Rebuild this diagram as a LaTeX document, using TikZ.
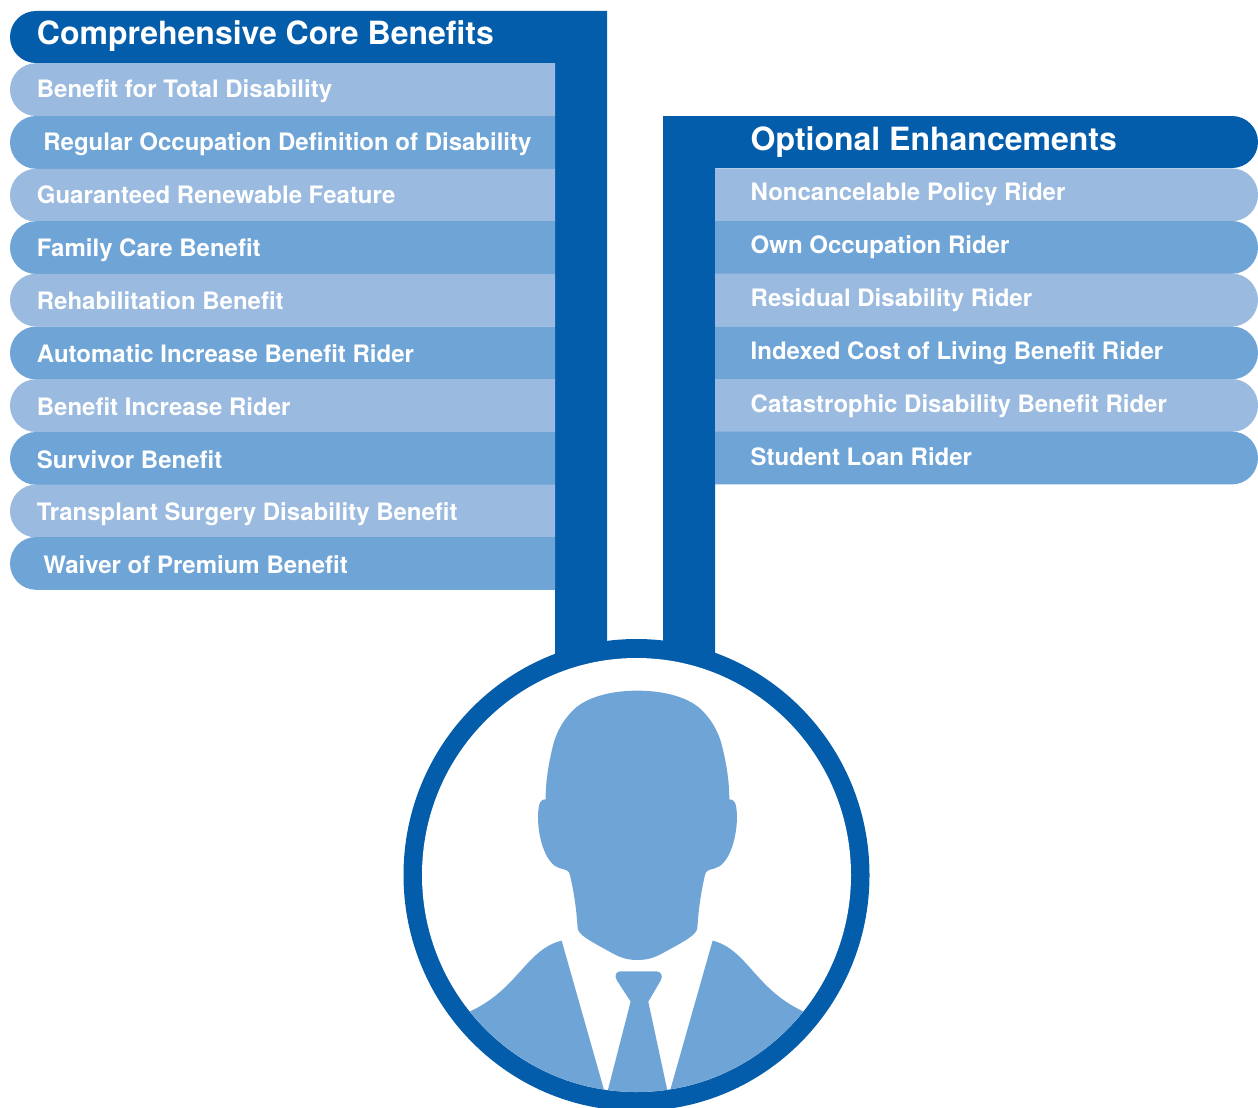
\documentclass[tikz,border=0pt]{standalone}
\usepackage{fontspec}
\setmainfont{TeX Gyre Heros}
\definecolor{dark}{HTML}{045DAB}
\definecolor{light}{HTML}{9ABAE0}
\definecolor{mid}{HTML}{6FA4D6}
\tikzset{
 title/.style={anchor=base west,inner sep=0pt,text=white,font=\bfseries\fontsize{32}{33}\selectfont},
 rowtext/.style={anchor=base west,inner sep=0pt,text=white,font=\bfseries\fontsize{24}{25}\selectfont},
}
\newcommand{\lrow}[3]{\fill[#1] (555,#2) -- (36,#2) arc[start angle=270,end angle=90,x radius=26,y radius=26.4] -- (555,#3) -- cycle;}
\newcommand{\rrow}[3]{\fill[#1] (715,#2) -- (1232,#2) arc[start angle=-90,end angle=90,x radius=26,y radius=26.4] -- (715,#3) -- cycle;}
\begin{document}
\begin{tikzpicture}[x=1pt,y=-1pt]
\useasboundingbox (0,0) rectangle (1258,1108);
% bars
\fill[dark] (607,11) -- (36,11) arc[start angle=270,end angle=90,x radius=26,y radius=26] -- (555,63) -- (555,680) -- (607,680) -- cycle;
\fill[dark] (663,680) -- (663,116) -- (1232,116) arc[start angle=-90,end angle=90,x radius=26,y radius=26] -- (715,168) -- (715,680) -- cycle;
% left rows
\lrow{light}{63.2}{116}
\lrow{mid}{116}{168.8}
\lrow{light}{168.8}{221.6}
\lrow{mid}{221.2}{274}
\lrow{light}{273.8}{326.6}
\lrow{mid}{326.6}{379.4}
\lrow{light}{379.2}{432}
\lrow{mid}{432}{484.8}
\lrow{light}{484.6}{537.4}
\lrow{mid}{537}{589.8}
% right rows
\rrow{light}{168.4}{221.2}
\rrow{mid}{221}{273.8}
\rrow{light}{273.6}{326.4}
\rrow{mid}{326.4}{379.2}
\rrow{light}{379}{431.8}
\rrow{mid}{431.6}{484.4}
% labels
\node[title] (tl) at (36.7,44.6) {Comprehensive Core Benefits};
\node[title] (tr) at (750.5,150.2) {Optional Enhancements};
\node[rowtext] (l1) at (36.7,97.5) {Benefit for Total Disability};
\node[rowtext] (l2) at (43.2,150.5) {Regular Occupation Definition of Disability};
\node[rowtext] (l3) at (36.7,203.5) {Guaranteed Renewable Feature};
\node[rowtext] (l4) at (36.7,256.5) {Family Care Benefit};
\node[rowtext] (l5) at (36.7,309) {Rehabilitation Benefit};
\node[rowtext] (l6) at (36.7,362) {Automatic Increase Benefit Rider};
\node[rowtext] (l7) at (36.7,415) {Benefit Increase Rider};
\node[rowtext] (l8) at (36.7,468) {Survivor Benefit};
\node[rowtext] (l9) at (36.7,520.5) {Transplant Surgery Disability Benefit};
\node[rowtext] (l10) at (43.2,573.5) {Waiver of Premium Benefit};
\node[rowtext] (r1) at (750.5,200.5) {Noncancelable Policy Rider};
\node[rowtext] (r2) at (750.5,253.5) {Own Occupation Rider};
\node[rowtext] (r3) at (750.5,306.5) {Residual Disability Rider};
\node[rowtext] (r4) at (750.5,359.5) {Indexed Cost of Living Benefit Rider};
\node[rowtext] (r5) at (750.5,412.5) {Catastrophic Disability Benefit Rider};
\node[rowtext] (r6) at (750.5,465.5) {Student Loan Rider};
% ring
\fill[dark] (636.5,875) ellipse[x radius=233,y radius=236];
\fill[white] (636.5,875) ellipse[x radius=214.5,y radius=217];
% silhouette
\begin{scope}
\clip (636.5,875) ellipse[x radius=214.5,y radius=217];
\begin{scope}[shift={(400,620)},x=0.3333pt,y=-0.3333pt]
\fill[mid] (712,212) .. controls (800,212) and (870,235) .. (905,270)
 .. controls (945,310) and (960,350) .. (968,385)
 .. controls (982,445) and (988,490) .. (988,538)
 .. controls (1002,538) and (1010,545) .. (1011,590)
 .. controls (1011,660) and (985,735) .. (945,745)
 .. controls (925,750) and (918,752) .. (915,765)
 .. controls (900,830) and (895,880) .. (892,925)
 .. controls (888,945) and (860,960) .. (800,993)
 .. controls (765,1013) and (745,1020) .. (712,1020)
 .. controls (680,1020) and (660,1013) .. (625,993)
 .. controls (565,960) and (537,945) .. (533,925)
 .. controls (530,880) and (525,830) .. (510,765)
 .. controls (507,752) and (500,750) .. (480,745)
 .. controls (440,735) and (414,660) .. (414,590)
 .. controls (415,545) and (423,538) .. (437,538)
 .. controls (437,490) and (443,445) .. (457,385)
 .. controls (465,350) and (480,310) .. (520,270)
 .. controls (555,235) and (625,212) .. (712,212) -- cycle;
\fill[mid] (485,962) -- (615,1420) -- (200,1420) -- (170,1190)
 .. controls (350,1130) and (370,990) .. (485,962) -- cycle;
\fill[mid] (938,962) -- (808,1420) -- (1230,1420) -- (1250,1190)
 .. controls (1070,1130) and (1050,990) .. (938,962) -- cycle;
\fill[mid] (662,1054) -- (768,1054) .. controls (782,1054) and (790,1066) .. (783,1080)
 -- (745,1145) -- (805,1425) -- (620,1425) -- (692,1145) -- (650,1080)
 .. controls (643,1066) and (648,1054) .. (662,1054) -- cycle;
\end{scope}
\end{scope}
\end{tikzpicture}
\end{document}
